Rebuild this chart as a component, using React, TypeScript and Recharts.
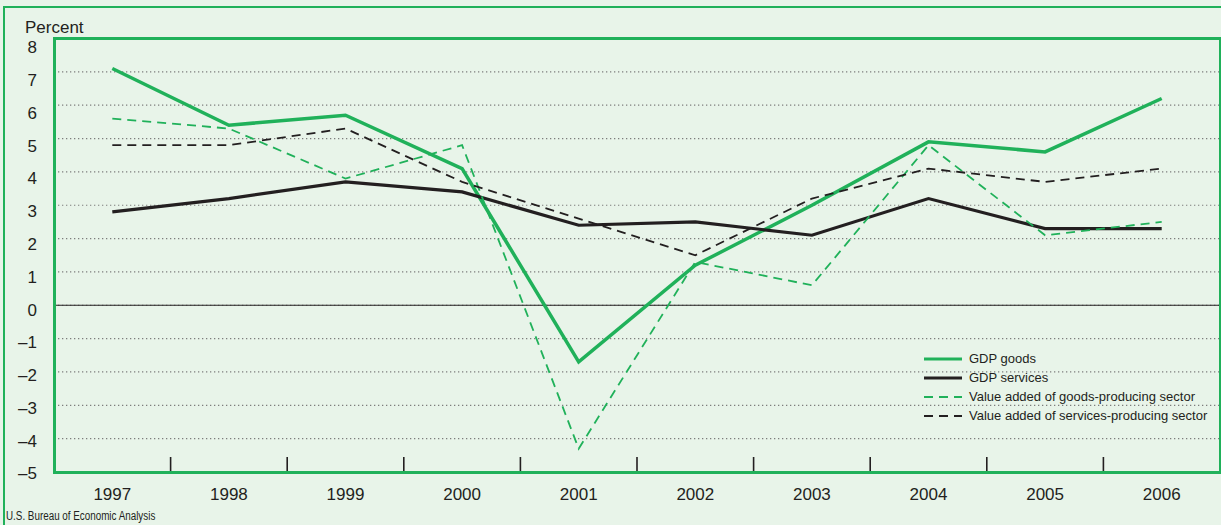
import React from 'react';
import { LineChart, Line, XAxis, YAxis, CartesianGrid, ReferenceLine, Legend } from 'recharts';

const years = ['1997', '1998', '1999', '2000', '2001', '2002', '2003', '2004', '2005', '2006'];
const gdpGoods = [7.1, 5.4, 5.7, 4.1, -1.7, 1.2, 3.0, 4.9, 4.6, 6.2];
const gdpServices = [2.8, 3.2, 3.7, 3.4, 2.4, 2.5, 2.1, 3.2, 2.3, 2.3];
const vaGoods = [5.6, 5.3, 3.8, 4.8, -4.3, 1.3, 0.6, 4.8, 2.1, 2.5];
const vaServices = [4.8, 4.8, 5.3, 3.7, 2.6, 1.5, 3.2, 4.1, 3.7, 4.1];
const yTicks = [-5, -4, -3, -2, -1, 0, 1, 2, 3, 4, 5, 6, 7, 8];

const GREEN = '#20b15a';
const INK = '#231f20';
const BG = '#e8f4e9';
const FONT = '"Liberation Sans", Arial, Helvetica, sans-serif';

const W = 1221;
const H = 525;
const PLOT_LEFT = 54;
const PLOT_TOP = 38.5;
const PLOT_RIGHT = 1220;
const PLOT_BOTTOM = 472;

const data = years.map((year, i) => ({
  year,
  gdpGoods: gdpGoods[i],
  gdpServices: gdpServices[i],
  vaGoods: vaGoods[i],
  vaServices: vaServices[i],
}));

const series = [
  { key: 'gdpGoods', name: 'GDP goods', color: GREEN, width: 3.5, dash: undefined as string | undefined },
  { key: 'gdpServices', name: 'GDP services', color: INK, width: 3.2, dash: undefined as string | undefined },
  { key: 'vaGoods', name: 'Value added of goods-producing sector', color: GREEN, width: 1.8, dash: '9 6' },
  { key: 'vaServices', name: 'Value added of services-producing sector', color: INK, width: 1.8, dash: '9 6' },
];

const fmt = (v: number) => (v < 0 ? '\u2013' + Math.abs(v) : String(v));

const YTick = (props: any) => {
  const { y, payload } = props;
  const v = payload.value as number;
  // labels in the original sit a little below their grid lines, more so near the top
  const off = 1.4 + (v + 5) * 0.57;
  return (
    <text x={37} y={y + off + 6} textAnchor="end" fontSize={17} fontFamily={FONT} fill={INK}>
      {fmt(v)}
    </text>
  );
};

const XTick = (props: any) => {
  const { x, payload, index } = props;
  const half = (PLOT_RIGHT - PLOT_LEFT) / years.length / 2;
  return (
    <g>
      <text x={x} y={PLOT_BOTTOM + 28} textAnchor="middle" fontSize={17} fontFamily={FONT} fill={INK}>
        {payload.value}
      </text>
      {index < years.length - 1 ? (
        <line x1={x + half} x2={x + half} y1={PLOT_BOTTOM} y2={PLOT_BOTTOM - 15} stroke={INK} strokeWidth={1.6} />
      ) : null}
    </g>
  );
};

const LegendBox = (props: any) => {
  const { payload } = props;
  return (
    <div style={{ fontFamily: FONT, fontSize: 13, color: INK }}>
      {(payload || []).map((entry: any) => {
        const meta = series.find((s) => s.key === entry.dataKey) || series[0];
        return (
          <div key={entry.value} style={{ display: 'flex', alignItems: 'center', height: 19 }}>
            <svg width={40} height={10} style={{ marginRight: 6 }}>
              <line x1={1} x2={39} y1={5} y2={5} stroke={meta.color} strokeWidth={meta.dash ? 1.8 : 3} strokeDasharray={meta.dash ? '9 6' : undefined} />
            </svg>
            <span style={{ whiteSpace: 'nowrap' }}>{entry.value}</span>
          </div>
        );
      })}
    </div>
  );
};

export default function App() {
  return (
    <div style={{ position: 'absolute', left: 0, top: 0, width: W, height: H, background: BG, overflow: 'hidden' }}>
      <div
        style={{
          position: 'absolute',
          left: 3,
          top: 6,
          width: 1400,
          height: 700,
          borderLeft: `2px solid ${GREEN}`,
          borderTop: `2px solid ${GREEN}`,
        }}
      />
      <div style={{ position: 'absolute', left: 25, top: 18, fontFamily: FONT, fontSize: 17, color: INK }}>Percent</div>
      <LineChart
        width={W}
        height={H}
        data={data}
        margin={{ top: PLOT_TOP, right: W - PLOT_RIGHT, bottom: 0, left: 0 }}
        style={{ position: 'absolute', left: 0, top: 0 }}
      >
        <CartesianGrid horizontal vertical={false} stroke="#7d7d7d" strokeDasharray="1.3 2.7" strokeWidth={1.2} />
        <XAxis dataKey="year" scale="band" height={H - PLOT_BOTTOM} axisLine={false} tickLine={false} tick={<XTick />} interval={0} />
        <YAxis
          domain={[-5, 8]}
          ticks={yTicks}
          width={PLOT_LEFT}
          axisLine={false}
          tickLine={false}
          interval={0}
          tick={<YTick />}
        />
        <ReferenceLine y={0} stroke={INK} strokeWidth={1.2} />
        <Legend
          layout="vertical"
          align="center"
          verticalAlign="middle"
          content={<LegendBox />}
          wrapperStyle={{ position: 'absolute', left: 923, top: 349, width: 295 }}
        />
        {series.map((s) => (
          <Line
            key={s.key}
            dataKey={s.key}
            name={s.name}
            type="linear"
            stroke={s.color}
            strokeWidth={s.width}
            strokeDasharray={s.dash}
            dot={false}
            activeDot={false}
            isAnimationActive={false}
          />
        ))}
      </LineChart>
      <div
        style={{
          position: 'absolute',
          left: PLOT_LEFT - 1.5,
          top: PLOT_TOP - 1.5,
          width: PLOT_RIGHT - PLOT_LEFT + 3,
          height: PLOT_BOTTOM - PLOT_TOP + 3,
          border: `3px solid ${GREEN}`,
          boxSizing: 'border-box',
          pointerEvents: 'none',
        }}
      />
      <div
        style={{
          position: 'absolute',
          left: 6,
          top: 509,
          fontFamily: FONT,
          fontSize: 12,
          color: INK,
          whiteSpace: 'nowrap',
          transform: 'scaleX(0.82)',
          transformOrigin: 'left center',
        }}
      >
        U.S. Bureau of Economic Analysis
      </div>
    </div>
  );
}
